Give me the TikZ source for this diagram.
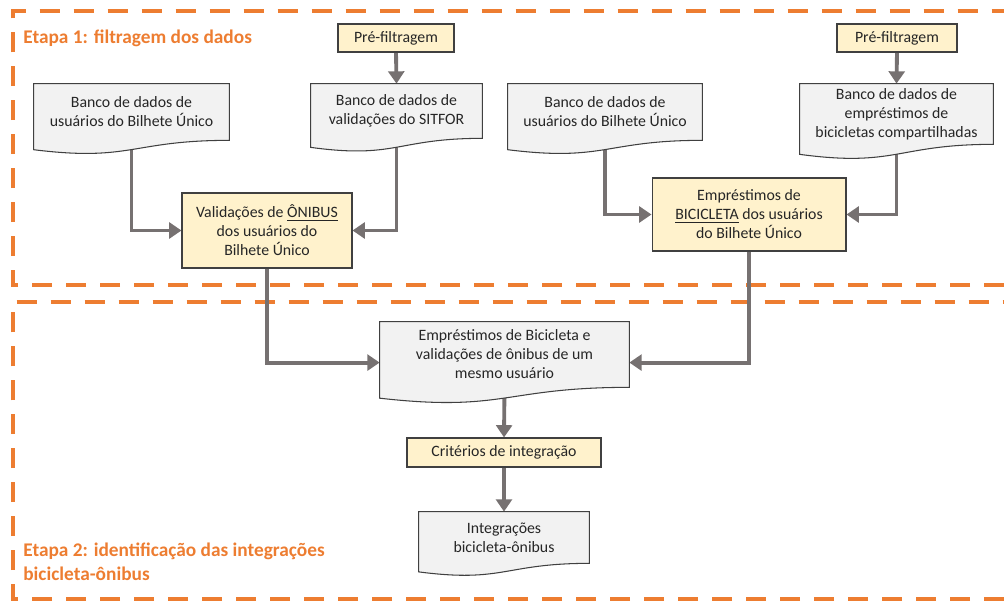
\documentclass[tikz,border=0pt]{standalone}
\usepackage{fontspec}
\setmainfont{Carlito}
\usetikzlibrary{arrows.meta,calc}
\definecolor{etapa}{HTML}{ED7D31}
\definecolor{seta}{HTML}{767171}
\definecolor{docfill}{HTML}{F2F2F2}
\definecolor{filtro}{HTML}{FFF2CC}
\definecolor{borda}{HTML}{404040}
\definecolor{texto}{HTML}{262626}
\pgfdeclarelayer{behind}
\pgfdeclarelayer{background}
\pgfsetlayers{behind,background,main}
% document outline with wavy bottom, drawn behind the node text
\newcommand{\docshape}[1]{%
  \begin{pgfonlayer}{background}
    \draw[DocLine] (#1.north west) -- (#1.north east) -- (#1.south east)
      .. controls (#1.south) and ($(#1.north)!1.38!(#1.south)$)
      .. ($(#1.north west)!1.165!(#1.south west)$) -- cycle;
  \end{pgfonlayer}}

\begin{document}
\begin{tikzpicture}[x=0.02cm,y=-0.02cm]
  \tikzstyle{DocStyle}=[align=center,text=texto,inner sep=0pt,
    font=\fontsize{9}{10.8}\selectfont]
  \tikzstyle{DocLine}=[fill=docfill,draw=borda,line width=0.6pt]
  \tikzstyle{FilterStyle}=[DocStyle,draw=borda,fill=filtro,line width=0.6pt]
  \tikzstyle{EdgeStyle}=[draw=seta,line width=2.2pt,
    -{Triangle[length=7pt,width=9pt]}]
  \tikzstyle{FrameStyle}=[draw=etapa,line width=2.2pt,
    dash pattern=on 0.4cm off 0.28cm]
  \tikzstyle{TitleStyle}=[text=etapa,anchor=west,align=left,inner sep=0pt,
    font=\fontsize{11}{13.6}\selectfont\bfseries]
  \useasboundingbox (0,0) rectangle (1004,601);

  % etapa 1
  \node[TitleStyle] (etapa1) at (23,38) {Etapa 1: filtragem dos dados};
  \node[FilterStyle,minimum width=2.32cm,minimum height=0.56cm] (pre1) at (396,38) {Pré-filtragem};
  \node[FilterStyle,minimum width=2.4cm,minimum height=0.56cm] (pre2) at (897,38) {Pré-filtragem};
  \node[DocStyle,minimum width=3.9cm,minimum height=1.12cm] (doc1) at (131.5,112)
    {Banco de dados de\\usuários do Bilhete Único};
  \node[DocStyle,minimum width=3.42cm,minimum height=1.08cm] (doc2) at (396.5,111)
    {Banco de dados de\\validações do SITFOR};
  \node[DocStyle,minimum width=3.88cm,minimum height=1.12cm] (doc3) at (605,112)
    {Banco de dados de\\usuários do Bilhete Único};
  \node[DocStyle,minimum width=3.86cm,minimum height=1.2cm] (doc4) at (896.5,114)
    {Banco de dados de\\empréstimos de\\bicicletas compartilhadas};
  \node[FilterStyle,minimum width=3.4cm,minimum height=1.5cm] (onibus) at (267,230.5)
    {Validações de \underline{ÔNIBUS}\\dos usuários do\\Bilhete Único};
  \node[FilterStyle,minimum width=3.88cm,minimum height=1.46cm] (bicicleta) at (749,214.5)
    {Empréstimos de\\\underline{BICICLETA} dos usuários\\do Bilhete Único};

  % etapa 2
  \node[DocStyle,minimum width=4.98cm,minimum height=1.3cm] (mesmo) at (504.5,354.5)
    {Empréstimos de Bicicleta e\\validações de ônibus de um\\mesmo usuário};
  \node[FilterStyle,minimum width=3.88cm,minimum height=0.58cm] (criterios) at (504,452.5)
    {Critérios de integração};
  \node[DocStyle,minimum width=3.4cm,minimum height=1.02cm] (integr) at (504,537.5)
    {Integrações\\bicicleta-ônibus};
  \node[TitleStyle] (etapa2) at (23,562)
    {Etapa 2: identificação das integrações\\bicicleta-ônibus};

  \docshape{doc1}
  \docshape{doc2}
  \docshape{doc3}
  \docshape{doc4}
  \docshape{mesmo}
  \docshape{integr}

  \coordinate (mesmoW) at ($(mesmo.north west)!0.623!(mesmo.south west)$);
  \coordinate (mesmoE) at ($(mesmo.north east)!0.623!(mesmo.south east)$);

  \begin{pgfonlayer}{behind}
    \draw[FrameStyle] (1004,285) -- (13,285) -- (13,11) -- (1004,11);
    \draw[FrameStyle] (1004,599) -- (13,599) -- (13,302) -- (1004,302);
    \draw[EdgeStyle] (pre1.south) -- (doc2.north);
    \draw[EdgeStyle] (pre2.south) -- (doc4.north);
    \draw[EdgeStyle] (doc1.south) |- (onibus.west);
    \draw[EdgeStyle] (doc2.south) |- (onibus.east);
    \draw[EdgeStyle] (doc3.south) |- (bicicleta.west);
    \draw[EdgeStyle] (doc4.south) |- (bicicleta.east);
    \draw[EdgeStyle] (onibus.south) |- (mesmoW);
    \draw[EdgeStyle] (bicicleta.south) |- (mesmoE);
    \draw[EdgeStyle] (mesmo.south) -- (criterios.north);
    \draw[EdgeStyle] (criterios.south) -- (integr.north);
  \end{pgfonlayer}
\end{tikzpicture}
\end{document}
